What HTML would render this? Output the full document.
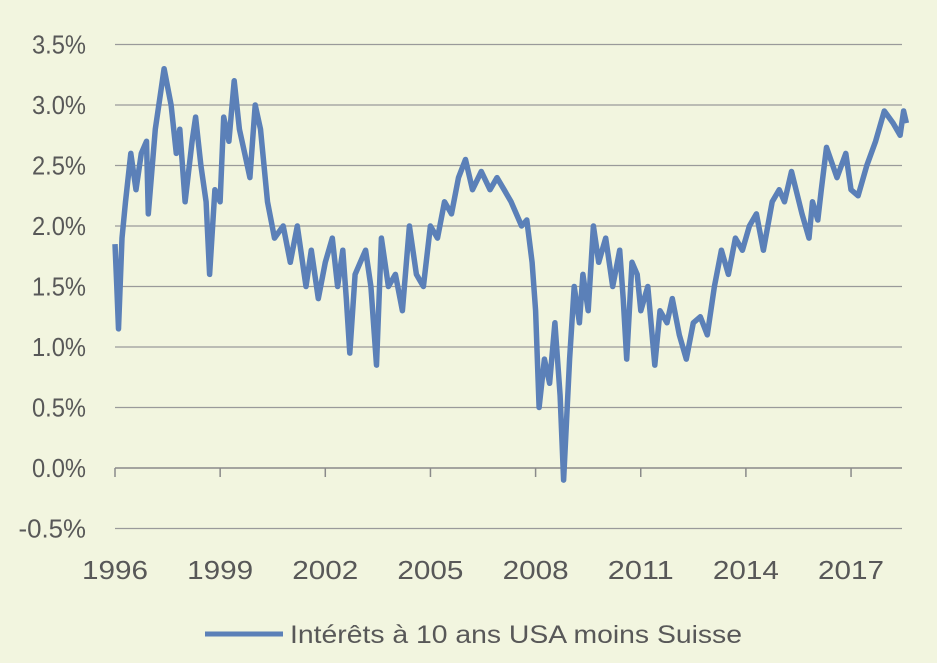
<!DOCTYPE html>
<html><head><meta charset="utf-8"><style>
body{margin:0;background:#f2f5df;}
svg{display:block;font-family:"Liberation Sans",sans-serif;}
</style></head><body>
<svg id="chart" width="937" height="663">
<rect width="937" height="663" fill="#f2f5df"/>
<g id="grid"></g><g id="ylab"></g><g id="xlab"></g><g id="series"></g>
<g>
<line x1="205" y1="634" x2="283" y2="634" stroke="#5b80b8" stroke-width="5"/>
<text x="290" y="643" font-size="25" fill="#585858" textLength="452" lengthAdjust="spacingAndGlyphs">Intérêts à 10 ans USA moins Suisse</text>
</g>
</svg>
<script>
const yTicks=[-0.5,0,0.5,1,1.5,2,2.5,3,3.5];
const yTickLabels=["-0.5%","0.0%","0.5%","1.0%","1.5%","2.0%","2.5%","3.0%","3.5%"];
const xTicks=[1996,1999,2002,2005,2008,2011,2014,2017];
const times=[
1996.0,1996.05,1996.1,1996.2,1996.3,1996.45,1996.6,1996.75,1996.9,1996.95,
1997.15,1997.3,1997.4,1997.6,1997.75,1997.85,1998.0,1998.2,1998.3,1998.45,
1998.6,1998.7,1998.85,1999.0,1999.1,1999.25,1999.4,1999.55,1999.7,1999.85,
2000.0,2000.15,2000.35,2000.55,2000.8,2001.0,2001.2,2001.45,2001.6,2001.8,
2002.0,2002.2,2002.35,2002.5,2002.6,2002.7,2002.85,2003.0,2003.15,2003.3,
2003.46,2003.6,2003.8,2004.0,2004.2,2004.4,2004.6,2004.8,2005.0,2005.2,
2005.4,2005.6,2005.8,2006.0,2006.2,2006.45,2006.7,2006.9,2007.1,2007.3,
2007.6,2007.75,2007.9,2008.0,2008.1,2008.25,2008.4,2008.55,2008.7,2008.8,
2008.97,2009.1,2009.25,2009.35,2009.5,2009.65,2009.8,2010.0,2010.2,2010.4,
2010.5,2010.6,2010.75,2010.9,2011.0,2011.2,2011.4,2011.55,2011.75,2011.9,
2012.1,2012.3,2012.5,2012.7,2012.9,2013.1,2013.3,2013.5,2013.7,2013.9,
2014.1,2014.3,2014.5,2014.75,2014.95,2015.1,2015.3,2015.6,2015.8,2015.9,
2016.05,2016.15,2016.3,2016.6,2016.85,2017.0,2017.2,2017.45,2017.7,2017.95,
2018.2,2018.4,2018.5,2018.58];
const values=[
1.85,1.5,1.15,1.9,2.2,2.6,2.3,2.6,2.7,2.1,
2.8,3.1,3.3,3.0,2.6,2.8,2.2,2.7,2.9,2.5,
2.2,1.6,2.3,2.2,2.9,2.7,3.2,2.8,2.6,2.4,
3.0,2.8,2.2,1.9,2.0,1.7,2.0,1.5,1.8,1.4,
1.7,1.9,1.5,1.8,1.4,0.95,1.6,1.7,1.8,1.5,
0.85,1.9,1.5,1.6,1.3,2.0,1.6,1.5,2.0,1.9,
2.2,2.1,2.4,2.55,2.3,2.45,2.3,2.4,2.3,2.2,
2.0,2.05,1.7,1.3,0.5,0.9,0.7,1.2,0.6,-0.1,
0.9,1.5,1.2,1.6,1.3,2.0,1.7,1.9,1.5,1.8,
1.4,0.9,1.7,1.6,1.3,1.5,0.85,1.3,1.2,1.4,
1.1,0.9,1.2,1.25,1.1,1.5,1.8,1.6,1.9,1.8,
2.0,2.1,1.8,2.2,2.3,2.2,2.45,2.1,1.9,2.2,
2.05,2.3,2.65,2.4,2.6,2.3,2.25,2.5,2.7,2.95,
2.85,2.75,2.95,2.85];
const ns="http://www.w3.org/2000/svg";
const X=t=>115+(t-1996)*35.05;
const Y=v=>468-v*121;
const grid=document.getElementById('grid'),ylab=document.getElementById('ylab'),xlab=document.getElementById('xlab');
yTicks.forEach((v,i)=>{
const l=document.createElementNS(ns,'line');
l.setAttribute('x1',115);l.setAttribute('x2',902);l.setAttribute('y1',Y(v));l.setAttribute('y2',Y(v));
l.setAttribute('stroke',v===0?'#8a8a8a':'#9a9a9a');l.setAttribute('stroke-width',v===0?1.5:1.2);


grid.appendChild(l);
const t=document.createElementNS(ns,'text');
t.setAttribute('x',86);t.setAttribute('y',Y(v)+9);t.setAttribute('text-anchor','end');
t.setAttribute('font-size','26');t.setAttribute('fill','#585858');t.textContent=yTickLabels[i];
t.setAttribute('textLength',yTickLabels[i].length*13.5+(yTickLabels[i].length>4?0:0));
t.setAttribute('lengthAdjust','spacingAndGlyphs');


ylab.appendChild(t);
});
xTicks.forEach(yr=>{
const l=document.createElementNS(ns,'line');
l.setAttribute('x1',X(yr));l.setAttribute('x2',X(yr));l.setAttribute('y1',468);l.setAttribute('y2',477);
l.setAttribute('stroke','#8a8a8a');l.setAttribute('stroke-width',1.5);


grid.appendChild(l);
const t=document.createElementNS(ns,'text');
t.setAttribute('x',X(yr));t.setAttribute('y',579);t.setAttribute('text-anchor','middle');
t.setAttribute('font-size','26');t.setAttribute('fill','#585858');t.textContent=yr;
t.setAttribute('textLength','66');t.setAttribute('lengthAdjust','spacingAndGlyphs');


xlab.appendChild(t);
});
const p=document.createElementNS(ns,'path');
p.setAttribute('d',times.map((t,i)=>(i?'L':'M')+X(t).toFixed(1)+','+Y(values[i]).toFixed(1)).join(''));
p.setAttribute('fill','none');p.setAttribute('stroke','#5b80b8');p.setAttribute('stroke-width','5.5');p.setAttribute('stroke-linejoin','round');


document.getElementById('series').appendChild(p);
</script>
</body></html>
